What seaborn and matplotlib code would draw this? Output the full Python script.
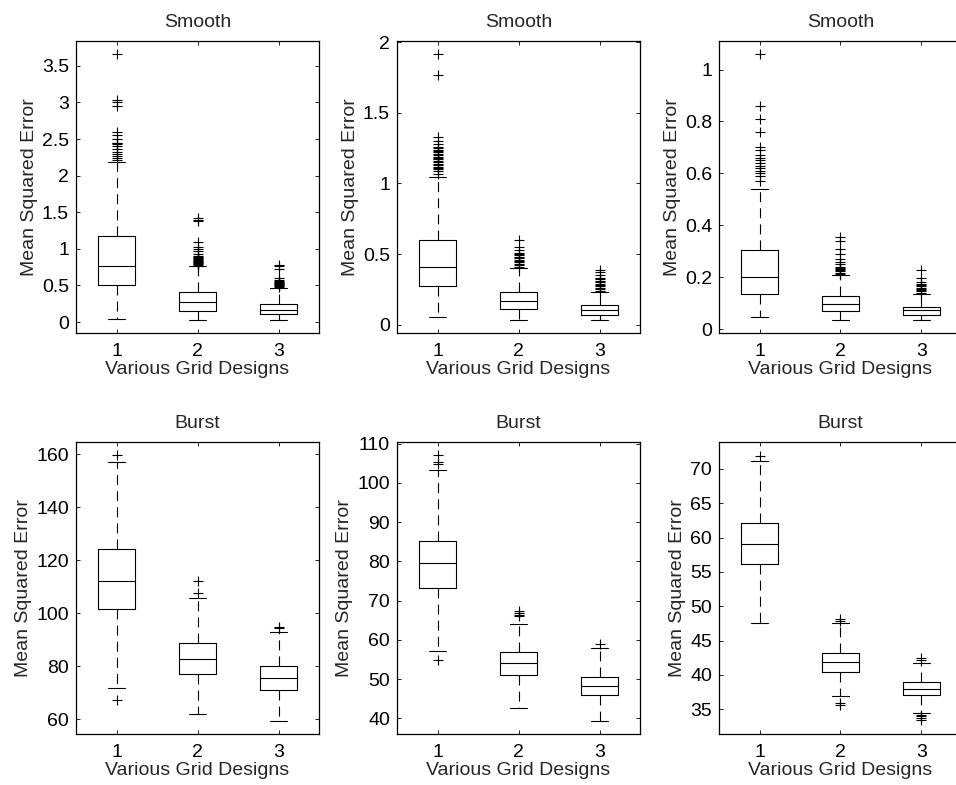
import numpy as np
import pandas as pd
import seaborn as sns
import matplotlib.pyplot as plt
import matplotlib.ticker as ticker

# grid designs on the x axis
designs = [1, 2, 3]
titles = ["Smooth", "Smooth", "Smooth", "Burst", "Burst", "Burst"]

# box summaries per panel: one entry per grid design
smooth_a_wlo = [0.045, 0.03, 0.025]
smooth_a_q1 = [0.50, 0.155, 0.11]
smooth_a_med = [0.76, 0.27, 0.17]
smooth_a_q3 = [1.18, 0.405, 0.25]
smooth_a_whi = [2.19, 0.76, 0.47]
smooth_a_out = [
    [2.21, 2.24, 2.27, 2.30, 2.33, 2.36, 2.40, 2.43, 2.44, 2.45, 2.50, 2.55, 2.60, 2.95, 3.01, 3.03, 3.66],
    [0.77, 0.78, 0.79, 0.80, 0.81, 0.82, 0.83, 0.84, 0.85, 0.86, 0.87, 0.88, 0.89, 0.90, 0.93, 0.97,
     1.00, 1.03, 1.10, 1.38, 1.40, 1.42],
    [0.48, 0.49, 0.50, 0.51, 0.52, 0.53, 0.54, 0.55, 0.56, 0.58, 0.60, 0.73, 0.76, 0.78],
]

smooth_b_wlo = [0.052, 0.035, 0.031]
smooth_b_q1 = [0.276, 0.111, 0.071]
smooth_b_med = [0.41, 0.17, 0.106]
smooth_b_q3 = [0.60, 0.229, 0.142]
smooth_b_whi = [1.044, 0.40, 0.234]
smooth_b_out = [
    [1.07, 1.09, 1.10, 1.11, 1.12, 1.13, 1.14, 1.15, 1.16, 1.17, 1.18, 1.19, 1.20, 1.21, 1.22, 1.23,
     1.24, 1.25, 1.26, 1.28, 1.30, 1.33, 1.77, 1.92],
    [0.41, 0.42, 0.43, 0.44, 0.45, 0.46, 0.47, 0.48, 0.49, 0.50, 0.51, 0.53, 0.55, 0.60],
    [0.24, 0.25, 0.26, 0.27, 0.28, 0.29, 0.30, 0.31, 0.32, 0.33, 0.35, 0.37, 0.39],
]

smooth_c_wlo = [0.048, 0.036, 0.036]
smooth_c_q1 = [0.136, 0.069, 0.055]
smooth_c_med = [0.199, 0.096, 0.073]
smooth_c_q3 = [0.303, 0.127, 0.087]
smooth_c_whi = [0.54, 0.208, 0.136]
smooth_c_out = [
    [0.57, 0.59, 0.60, 0.61, 0.62, 0.63, 0.64, 0.65, 0.66, 0.67, 0.69, 0.70, 0.76, 0.81, 0.86, 1.06],
    [0.213, 0.218, 0.222, 0.226, 0.23, 0.235, 0.24, 0.25, 0.26, 0.27, 0.29, 0.31, 0.34, 0.355],
    [0.14, 0.145, 0.15, 0.155, 0.16, 0.165, 0.17, 0.175, 0.18, 0.195, 0.229],
]

burst_a_wlo = [71.9, 61.9, 59.4]
burst_a_q1 = [101.8, 77.1, 71.1]
burst_a_med = [112.3, 82.6, 75.8]
burst_a_q3 = [124.1, 89.0, 80.1]
burst_a_whi = [157.2, 105.6, 93.0]
burst_a_out = [[67.4, 159.6], [107.5, 112.3], [94.3, 94.8]]

burst_b_wlo = [57.1, 42.7, 39.3]
burst_b_q1 = [73.3, 51.0, 45.9]
burst_b_med = [79.6, 54.0, 48.3]
burst_b_q3 = [85.2, 57.0, 50.6]
burst_b_whi = [103.2, 64.0, 57.8]
burst_b_out = [[54.8, 104.7, 105.2, 107.0], [66.0, 66.4, 66.8, 67.3], [58.9]]

burst_c_wlo = [47.55, 36.9, 34.5]
burst_c_q1 = [56.1, 40.4, 37.1]
burst_c_med = [59.0, 41.9, 37.96]
burst_c_q3 = [62.1, 43.2, 38.9]
burst_c_whi = [71.1, 47.6, 41.7]
burst_c_out = [[71.9], [35.6, 35.9, 47.8, 48.2], [33.4, 33.7, 34.0, 34.2, 42.1, 42.5]]

panels = [
    (smooth_a_wlo, smooth_a_q1, smooth_a_med, smooth_a_q3, smooth_a_whi, smooth_a_out),
    (smooth_b_wlo, smooth_b_q1, smooth_b_med, smooth_b_q3, smooth_b_whi, smooth_b_out),
    (smooth_c_wlo, smooth_c_q1, smooth_c_med, smooth_c_q3, smooth_c_whi, smooth_c_out),
    (burst_a_wlo, burst_a_q1, burst_a_med, burst_a_q3, burst_a_whi, burst_a_out),
    (burst_b_wlo, burst_b_q1, burst_b_med, burst_b_q3, burst_b_whi, burst_b_out),
    (burst_c_wlo, burst_c_q1, burst_c_med, burst_c_q3, burst_c_whi, burst_c_out),
]

y_limits = [(-0.15, 3.84), (-0.06, 2.01), (-0.015, 1.11), (54.5, 164.6), (36.0, 110.4), (31.4, 73.9)]
y_ticks = [np.arange(0, 3.51, 0.5), np.arange(0, 2.01, 0.5), np.arange(0, 1.01, 0.2),
           np.arange(60, 161, 20), np.arange(40, 111, 10), np.arange(35, 71, 5)]

sns.set_style("ticks")
plt.rcParams['font.family'] = ['Liberation Sans', 'DejaVu Sans']
plt.rcParams['xtick.direction'] = 'in'
plt.rcParams['ytick.direction'] = 'in'

fig = plt.figure(figsize=(9.56, 7.85), dpi=100)
W, H = 956, 785
lefts = [76, 397, 719]
tops = [41, 442]
aw, ah = 243, 292

for i, (wlo, q1, med, q3, whi, out) in enumerate(panels):
    row, col = divmod(i, 3)
    ax = fig.add_axes([lefts[col] / W, 1 - (tops[row] + ah) / H, aw / W, ah / H])

    stats = [dict(whislo=wlo[k], q1=q1[k], med=med[k], q3=q3[k], whishi=whi[k], fliers=[])
             for k in range(len(designs))]
    ax.bxp(stats, positions=designs, widths=0.45, capwidths=0.2, showfliers=False,
           boxprops=dict(color='black', lw=0.8),
           medianprops=dict(color='black', lw=0.8),
           whiskerprops=dict(color='black', lw=0.8, linestyle=(0, (9, 5.5))),
           capprops=dict(color='black', lw=0.8))

    df = pd.DataFrame({
        'design': [d for d, vals in zip(designs, out) for _ in vals],
        'mse': [v for vals in out for v in vals],
    })
    sns.scatterplot(data=df, x='design', y='mse', marker='+', color='black',
                    s=55, linewidth=0.8, ax=ax, legend=False, zorder=3)

    ax.set_xlim(0.5, 3.5)
    ax.set_ylim(*y_limits[i])
    ax.set_xticks(designs)
    ax.set_xticklabels([str(d) for d in designs])
    ax.set_yticks(y_ticks[i])
    ax.yaxis.set_major_formatter(ticker.FormatStrFormatter('%g'))
    ax.tick_params(axis='both', which='both', direction='in', length=3, width=0.6,
                   labelsize=14, top=True, right=True, pad=5, colors='black')
    ax.tick_params(axis='x', pad=7)
    for sp in ax.spines.values():
        sp.set_linewidth(0.9)
        sp.set_color('black')

    ax.set_title(titles[i], fontsize=14, pad=10)
    ax.set_xlabel('Various Grid Designs', fontsize=14, labelpad=1)
    ax.set_ylabel('Mean Squared Error', fontsize=14, labelpad=3)

plt.savefig('out.png', dpi=100)
